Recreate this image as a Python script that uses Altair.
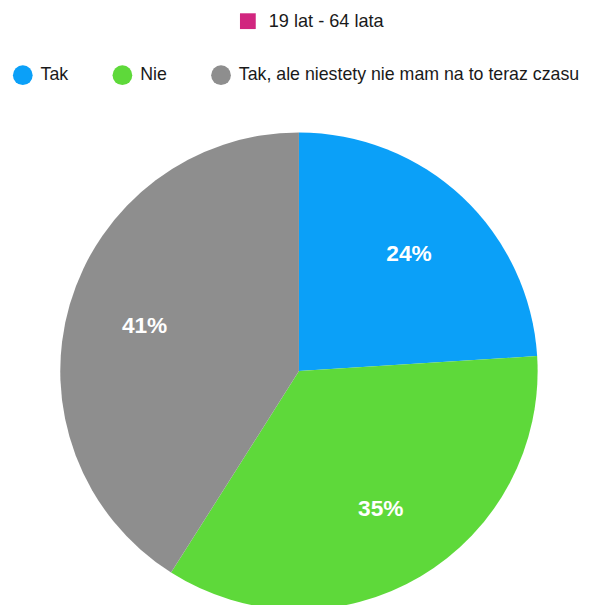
import altair as alt
import pandas as pd

categories = ["Tak", "Nie", "Tak, ale niestety nie mam na to teraz czasu"]
values = [24, 35, 41]
colors = ["#0BA0F8", "#5ED93A", "#8E8E8E"]
group = ["19 lat - 64 lata"]
group_color = ["#D1267F"]

FONT = "Liberation Sans"

df = pd.DataFrame({
    "kategoria": categories,
    "procent": values,
    "kolejnosc": list(range(len(categories))),
})
df["etykieta"] = df["procent"].astype(str) + "%"

cx, cy = 295, 364

base = alt.Chart(df).encode(
    theta=alt.Theta("procent:Q", stack=True),
    order=alt.Order("kolejnosc:Q"),
)

pie = base.mark_arc(radius=242, strokeWidth=0).encode(
    x=alt.value(cx),
    y=alt.value(cy),
    color=alt.Color(
        "kategoria:N",
        scale=alt.Scale(domain=categories, range=colors),
        sort=categories,
        legend=alt.Legend(
            title=None,
            orient="none",
            direction="horizontal",
            legendX=5,
            legendY=54,
            padding=0,
            symbolType="circle",
            symbolSize=400,
            symbolStrokeWidth=0,
            symbolOpacity=1,
            labelOffset=8,
            columnPadding=44,
            labelFont=FONT,
            labelFontSize=18,
            labelColor="#1a1a1a",
            labelLimit=600,
        ),
    ),
)

labels = base.mark_text(
    radius=163, font=FONT, fontSize=23, fontWeight="bold", color="white"
).encode(
    x=alt.value(cx),
    y=alt.value(cy),
    text="etykieta:N",
)

grp = alt.Chart(pd.DataFrame({"grupa": group})).mark_point(
    shape="square", filled=True, opacity=0, size=0
).encode(
    x=alt.value(0),
    y=alt.value(0),
    color=alt.Color(
        "grupa:N",
        scale=alt.Scale(domain=group, range=group_color),
        legend=alt.Legend(
            title=None,
            orient="none",
            legendX=234,
            legendY=0,
            padding=0,
            symbolType="square",
            symbolSize=256,
            symbolStrokeWidth=0,
            symbolOpacity=1,
            labelOffset=12,
            labelFont=FONT,
            labelFontSize=18.4,
            labelColor="#1a1a1a",
            labelLimit=600,
        ),
    ),
)

chart = (
    alt.layer(pie, labels, grp)
    .resolve_scale(color="independent")
    .properties(width=582, height=597, autosize=alt.AutoSizeParams(type="none"), padding=0)
    .configure_view(stroke=None)
)

chart.save("out.html", embed_options={"renderer": "svg", "actions": False})
